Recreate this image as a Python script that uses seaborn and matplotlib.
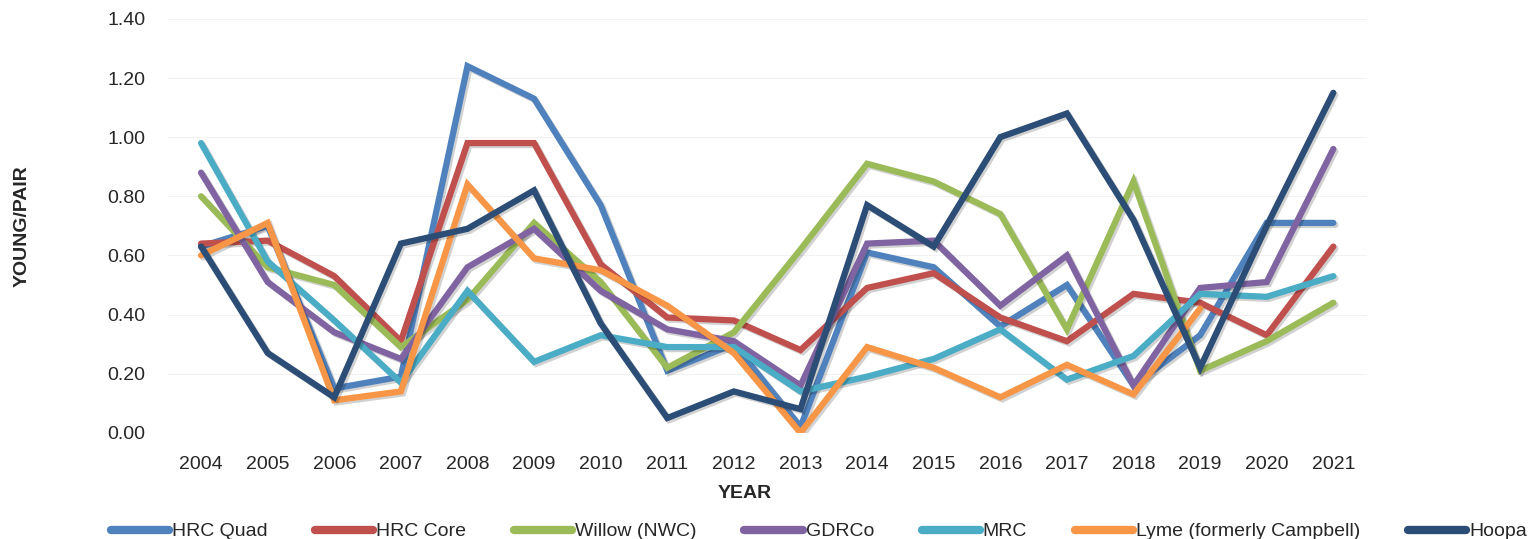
import seaborn as sns
import matplotlib.pyplot as plt
import matplotlib.patheffects as pe
import pandas as pd
import numpy as np

years = list(range(2004, 2022))

hrc_quad = [0.63, 0.70, 0.15, 0.19, 1.24, 1.13, 0.77, 0.21, 0.30, 0.02, 0.61, 0.56, 0.36, 0.50, 0.16, 0.33, 0.71, 0.71]
hrc_core = [0.64, 0.65, 0.53, 0.31, 0.98, 0.98, 0.57, 0.39, 0.38, 0.28, 0.49, 0.54, 0.39, 0.31, 0.47, 0.44, 0.33, 0.63]
willow = [0.80, 0.56, 0.50, 0.29, 0.45, 0.71, 0.51, 0.22, 0.34, 0.62, 0.91, 0.85, 0.74, 0.35, 0.85, 0.21, 0.31, 0.44]
gdrco = [0.88, 0.51, 0.34, 0.25, 0.56, 0.69, 0.48, 0.35, 0.31, 0.16, 0.64, 0.65, 0.43, 0.60, 0.16, 0.49, 0.51, 0.96]
mrc = [0.98, 0.58, 0.38, 0.17, 0.48, 0.24, 0.33, 0.29, 0.29, 0.14, 0.19, 0.25, 0.35, 0.18, 0.26, 0.47, 0.46, 0.53]
lyme = [0.60, 0.71, 0.11, 0.14, 0.84, 0.59, 0.55, 0.43, 0.27, 0.00, 0.29, 0.22, 0.12, 0.23, 0.13, 0.42, np.nan, np.nan]
hoopa = [0.63, 0.27, 0.12, 0.64, 0.69, 0.82, 0.37, 0.05, 0.14, 0.08, 0.77, 0.63, 1.00, 1.08, 0.72, 0.22, 0.70, 1.15]

series_names = ["HRC Quad", "HRC Core", "Willow (NWC)", "GDRCo", "MRC", "Lyme (formerly Campbell)", "Hoopa"]
colors = ["#4F81BD", "#C0504D", "#9BBB59", "#8064A2", "#4BACC6", "#F79646", "#2C4D75"]

df = pd.DataFrame({"Year": years, "HRC Quad": hrc_quad, "HRC Core": hrc_core,
                   "Willow (NWC)": willow, "GDRCo": gdrco, "MRC": mrc,
                   "Lyme (formerly Campbell)": lyme, "Hoopa": hoopa})
long_df = df.melt(id_vars="Year", var_name="Site", value_name="Young/Pair").dropna()

sns.set_style("white")
plt.rcParams['font.family'] = ['Liberation Sans', 'DejaVu Sans']

fig = plt.figure(figsize=(15.39, 5.39), dpi=100)
ax = fig.add_axes([0.109, 0.197, 0.779, 0.768])

sns.lineplot(data=long_df, x="Year", y="Young/Pair", hue="Site", hue_order=series_names,
             palette=colors, linewidth=4.5, ax=ax, legend=False)

# soft drop shadow like the original office chart
for line in ax.get_lines():
    line.set_solid_capstyle("round")
    line.set_solid_joinstyle("miter")
    line.set_path_effects([pe.SimpleLineShadow(offset=(1.5, -1.5), alpha=0.18, shadow_color="black"),
                           pe.Normal()])

ax.set_xlim(2003.5, 2021.5)
ax.set_ylim(0, 1.4)
ax.set_yticks(np.arange(0, 1.41, 0.2))
ax.set_yticklabels([f"{v:.2f}" for v in np.arange(0, 1.41, 0.2)], fontsize=14)
ax.set_xticks(years)
ax.set_xticklabels([str(y) for y in years], fontsize=14)
ax.tick_params(axis="y", length=0, pad=16)
ax.tick_params(axis="x", length=0, pad=17)
ax.grid(axis="y", color="#F2F2F2", linewidth=0.8)
ax.set_axisbelow(True)
for s in ax.spines.values():
    s.set_visible(False)

ax.set_xlabel("YEAR", fontsize=14, fontweight="bold")
ax.xaxis.set_label_coords(0.481, -0.125)
ax.set_ylabel("YOUNG/PAIR", fontsize=14, fontweight="bold", labelpad=55)

handles = [plt.Line2D([0], [0], color=c, linewidth=6, solid_capstyle="round") for c in colors]
fig.legend(handles, series_names, loc="lower center", bbox_to_anchor=(0.532, -0.035), ncol=7,
           frameon=False, fontsize=14, handlelength=3.0, handletextpad=0.15, columnspacing=2.45)

fig.savefig("out.png", dpi=100)
